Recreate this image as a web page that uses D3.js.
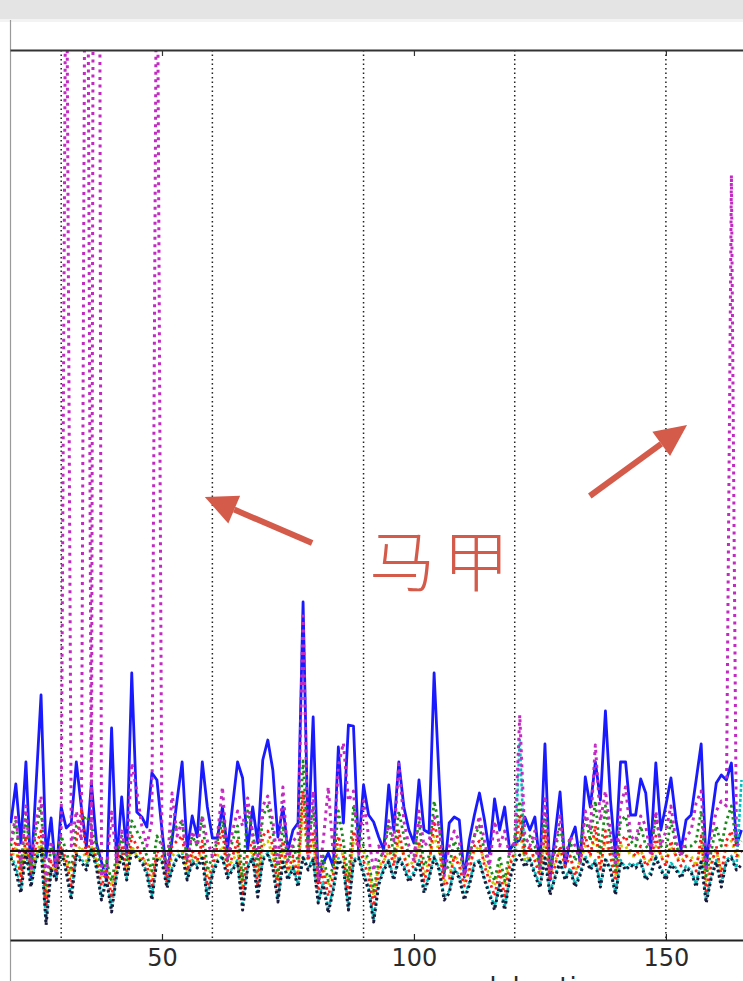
<!DOCTYPE html>
<html>
<head>
<meta charset="utf-8">
<script src="https://cdn.jsdelivr.net/npm/d3@7"></script>
<style>
  body { margin: 0; background: #fff; }
  svg { display: block; }
</style>
</head>
<body>
<svg id="chart" width="743" height="981"></svg>
<script>
// x runs 20..165, one sample per step
const steps = d3.range(20, 166);

const tickValues = [50, 100, 150];
const gridValues = [30, 60, 90, 120, 150];

const blueVals = [
  0.28, 0.67, 0.08, 0.89, -0.26, 0.65, 1.56, -0.06, 0.33, -0.26,
  0.44, 0.23, 0.28, 0.89, 0.44, 0.04, 0.68, 0.08, -0.11, -0.29,
  1.23, -0.12, 0.54, -0.02, 1.78, 0.39, 0.34, 0.24, 0.78, 0.71,
  0.21, -0.26, 0.11, 0.51, 0.89, 0.01, 0.35, 0.14, 0.89, 0.44,
  0.13, 0.13, 0.44, 0.01, 0.45, 0.89, 0.73, 0.01, 0.44, 0.08,
  0.91, 1.11, 0.81, 0.14, 0.44, 0.01, 0.21, 0.28, 2.49, 0.08,
  1.34, -0.32, -0.12, -0.02, -0.16, 1.04, 0.28, 1.26, 1.25, 0.01,
  0.66, 0.36, 0.29, 0.14, 0.01, 0.66, 0.21, 0.89, 0.44, 0.21,
  0.08, 0.71, 0.21, 0.18, 1.78, 0.71, -0.22, 0.28, 0.34, 0.31,
  -0.26, 0.11, 0.36, 0.58, 0.31, -0.02, 0.52, 0.21, 0.44, 0.01,
  0.08, 0.11, 0.34, 0.21, 0.34, -0.16, 1.07, -0.29, 0.16, 0.59,
  -0.16, 0.11, 0.24, -0.12, 0.74, 0.44, 0.89, 0.51, 1.40, 0.51,
  -0.06, 0.89, 0.89, 0.36, 0.36, 0.72, 0.58, 0.01, 0.88, 0.21,
  0.46, 0.73, 0.31, 0.01, 0.31, 0.36, 0.71, 1.07, -0.16, 0.31,
  0.68, 0.76, 0.71, 0.88, 0.06, 0.21
];

const blackVals = [
  -0.07, -0.21, -0.42, -0.01, -0.36, -0.09, 0.03, -0.74, -0.19, -0.29,
  0.01, -0.21, -0.49, -0.04, -0.11, -0.19, 0.01, -0.17, -0.49, -0.29,
  -0.61, -0.24, -0.04, -0.29, 0.01, -0.07, -0.11, -0.24, -0.49, -0.09,
  -0.11, -0.37, -0.19, -0.07, -0.04, -0.29, -0.11, -0.17, -0.07, -0.49,
  -0.24, -0.11, -0.07, -0.27, -0.19, -0.11, -0.59, -0.17, -0.07, -0.46,
  -0.09, -0.04, -0.17, -0.51, -0.11, -0.29, -0.17, -0.36, -0.07, -0.19,
  -0.09, -0.52, -0.34, -0.62, -0.39, -0.09, -0.17, -0.59, -0.11, -0.07,
  -0.24, -0.39, -0.71, -0.34, -0.19, -0.11, -0.29, -0.07, -0.17, -0.31,
  -0.24, -0.11, -0.42, -0.27, -0.07, -0.19, -0.49, -0.42, -0.19, -0.27,
  -0.49, -0.34, -0.14, -0.11, -0.29, -0.44, -0.59, -0.34, -0.59, -0.29,
  -0.11, -0.04, -0.16, -0.09, -0.24, -0.37, -0.07, -0.44, -0.27, -0.11,
  -0.29, -0.19, -0.36, -0.24, -0.07, -0.19, -0.11, -0.36, -0.09, -0.19,
  -0.44, -0.11, -0.19, -0.14, -0.17, -0.11, -0.29, -0.24, -0.07, -0.19,
  -0.29, -0.14, -0.19, -0.27, -0.17, -0.21, -0.36, -0.11, -0.52, -0.27,
  -0.11, -0.36, -0.11, -0.07, -0.19, -0.14
];

const magentaVals = [
  0.10, 0.35, -0.15, 0.45, -0.20, 0.30, 0.55, -0.30, 0.10, -0.15,
  0.20, 10, 0.05, 0.40, 0.10, 13, 0.05, 26, -0.25, -0.20,
  0.39, -0.10, 0.20, -0.05, 0.88, 0.60, 0.25, 0.05, 0.30, 10,
  0.05, -0.20, 0.58, 0.15, 0.30, -0.10, 0.20, 0.05, 0.35, 0.10,
  -0.05, 0.15, 0.64, -0.10, 0.20, 0.40, 0.25, 0.53, 0.15, -0.05,
  0.45, 0.55, 0.30, -0.15, 0.64, -0.10, 0.10, 0.15, 2.35, -0.05,
  0.60, -0.30, 0.10, 0.64, -0.05, 0.85, 1.08, 0.50, 0.60, -0.05,
  0.50, 0.15, -0.20, 0.05, -0.05, 0.30, 0.10, 0.87, 0.30, 0.05,
  -0.10, 0.40, 0.05, 0.10, 0.34, 0.25, -0.25, 0.05, 0.20, 0.10,
  -0.25, -0.05, 0.15, 0.35, 0.10, -0.15, 0.30, 0.05, 0.20, -0.05,
  0.10, 1.36, 0.15, 0.05, 0.20, -0.20, 0.55, -0.25, 0.05, 0.35,
  -0.10, 0.15, 0.05, -0.10, 0.40, 0.20, 1.06, 0.30, 0.60, 0.20,
  -0.15, 0.45, 0.64, 0.15, 0.10, 0.35, 0.25, -0.05, 0.40, 0.05,
  0.20, 0.45, 0.10, -0.05, 0.15, 0.20, 0.48, 0.60, -0.20, 0.15,
  0.40, 0.50, 0.45, 6.76, 0.05, 0.10
];

const redVals = [
  -0.05, 0.10, -0.30, 0.15, -0.25, 0.05, 0.20, -0.55, -0.10, -0.20,
  0.05, -0.10, -0.35, 0.10, 0.40, -0.05, 0.15, -0.10, -0.35, -0.20,
  -0.45, -0.15, 0.05, -0.20, 0.15, 0.05, -0.05, -0.15, -0.35, 0.00,
  -0.05, -0.30, 0.05, 0.10, 0.15, -0.20, 0.00, -0.10, 0.10, -0.35,
  -0.15, 0.05, 0.20, -0.20, -0.05, 0.10, -0.45, 0.00, 0.10, -0.35,
  0.15, 0.20, 0.05, -0.40, 0.10, -0.20, -0.05, -0.25, 0.60, -0.10,
  0.20, -0.40, -0.20, -0.45, -0.25, 0.15, -0.05, -0.45, 0.20, 0.05,
  -0.10, -0.25, -0.55, -0.20, -0.10, 0.05, -0.15, 0.20, -0.05, -0.20,
  -0.15, 0.10, -0.30, -0.15, 0.30, 0.05, -0.35, -0.30, -0.05, -0.15,
  -0.35, -0.20, 0.05, 0.10, -0.15, -0.30, -0.45, -0.20, -0.45, -0.15,
  0.00, 0.35, -0.05, 0.05, -0.10, -0.25, 0.20, -0.30, -0.15, 0.05,
  -0.15, -0.05, -0.25, -0.10, 0.15, -0.05, 0.25, -0.20, 0.20, -0.05,
  -0.30, 0.10, 0.15, 0.00, -0.05, 0.05, -0.15, -0.10, 0.15, -0.05,
  -0.15, 0.10, -0.05, -0.15, -0.05, -0.10, -0.20, 0.15, -0.40, -0.15,
  0.05, -0.25, 0.10, 0.20, -0.05, 0.00
];

const greenVals = [
  0.05, 0.30, -0.20, 0.40, -0.15, 0.20, 0.45, -0.40, 0.05, -0.10,
  0.15, 0.00, -0.20, 0.25, 0.30, 0.35, 0.25, 0.05, -0.20, -0.10,
  -0.30, -0.05, 0.15, -0.10, 0.30, 0.20, 0.10, -0.05, -0.20, 0.15,
  0.05, -0.15, 0.20, 0.25, 0.30, -0.10, 0.15, 0.05, 0.35, -0.20,
  -0.05, 0.10, 0.30, -0.10, 0.10, 0.25, -0.30, 0.40, 0.20, -0.20,
  0.35, 0.45, 0.20, -0.25, 0.25, -0.10, 0.05, -0.10, 0.90, 0.00,
  0.45, -0.25, -0.05, -0.30, -0.15, 0.40, 0.10, -0.30, 0.45, 0.20,
  0.05, -0.10, -0.40, -0.10, 0.00, 0.30, -0.05, 0.40, 0.15, -0.05,
  -0.05, 0.30, -0.15, -0.05, 0.50, 0.25, -0.20, -0.15, 0.10, 0.00,
  -0.20, -0.05, 0.15, 0.25, 0.00, -0.15, -0.30, -0.05, -0.30, 0.00,
  0.10, 0.50, 0.05, 0.15, 0.05, -0.15, 0.40, -0.15, 0.00, 0.25,
  -0.05, 0.10, -0.10, 0.05, 0.35, 0.10, 0.50, -0.05, 0.45, 0.10,
  -0.20, 0.30, 0.35, 0.10, 0.05, 0.25, 0.05, 0.00, 0.35, 0.05,
  0.00, 0.30, 0.05, -0.05, 0.05, 0.05, 0.10, 0.40, -0.25, 0.00,
  0.25, 0.05, 0.30, 0.45, 0.05, 0.10
];

const yellowVals = [
  -0.10, 0.05, -0.25, 0.05, -0.20, -0.05, 0.10, -0.45, -0.15, -0.20,
  -0.05, -0.10, -0.25, 0.00, 0.05, -0.10, 0.05, -0.10, -0.25, -0.15,
  -0.35, -0.15, -0.05, -0.20, 0.05, -0.05, -0.10, -0.10, -0.25, -0.05,
  -0.10, -0.25, -0.05, 0.00, 0.00, -0.20, -0.05, -0.10, 0.00, -0.25,
  -0.15, -0.05, 0.05, -0.15, -0.10, 0.00, -0.35, -0.05, 0.00, -0.25,
  0.05, 0.10, -0.05, -0.30, 0.00, -0.20, -0.10, -0.20, 0.40, -0.10,
  0.10, -0.30, -0.15, -0.35, -0.20, 0.05, -0.05, -0.30, 0.10, 0.05,
  0.00, -0.15, -0.45, -0.15, -0.10, 0.00, -0.10, 0.10, -0.05, -0.15,
  -0.10, 0.05, -0.25, -0.10, 0.15, 0.00, -0.30, -0.25, -0.05, -0.10,
  -0.30, -0.15, 0.00, 0.05, -0.10, -0.25, -0.35, -0.15, -0.35, -0.10,
  -0.05, 0.20, -0.10, -0.05, -0.05, -0.20, 0.10, -0.25, -0.10, 0.00,
  -0.15, -0.05, -0.20, -0.10, 0.05, -0.05, 0.15, -0.15, 0.10, -0.05,
  -0.25, 0.05, 0.05, -0.05, -0.05, 0.00, -0.10, -0.10, 0.05, -0.05,
  -0.10, 0.05, -0.05, -0.10, -0.05, -0.05, -0.15, 0.05, -0.30, -0.10,
  0.00, -0.20, 0.05, 0.10, -0.05, -0.05
];

const cyanVals = [
  -0.05, -0.15, -0.38, 0.00, -0.33, -0.08, 0.05, -0.70, -0.17, -0.27,
  0.02, -0.18, -0.45, -0.02, -0.08, -0.15, 0.03, -0.15, -0.45, -0.27,
  -0.57, -0.22, -0.02, -0.27, 0.03, -0.05, -0.09, -0.21, -0.45, -0.07,
  -0.09, -0.34, -0.17, -0.05, -0.02, -0.27, -0.09, -0.15, -0.05, -0.45,
  -0.21, -0.09, -0.05, -0.25, -0.17, -0.09, -0.55, -0.15, -0.05, -0.43,
  -0.07, -0.02, -0.15, -0.48, -0.09, -0.27, -0.15, -0.33, -0.05, -0.17,
  -0.07, -0.50, -0.31, -0.59, -0.36, -0.07, -0.15, -0.56, -0.09, -0.05,
  -0.21, -0.36, -0.68, -0.31, -0.17, -0.09, -0.27, -0.05, -0.15, -0.28,
  -0.21, -0.09, -0.39, -0.25, -0.05, -0.17, -0.46, -0.40, -0.17, -0.25,
  -0.46, -0.31, -0.12, -0.09, -0.27, -0.41, -0.56, -0.31, -0.56, -0.27,
  -0.09, 1.11, -0.14, -0.07, -0.21, -0.34, -0.05, -0.41, -0.25, -0.09,
  -0.27, -0.17, -0.33, -0.21, -0.05, -0.17, -0.09, -0.33, -0.07, -0.17,
  -0.41, -0.09, -0.17, -0.12, -0.15, -0.09, -0.27, -0.21, -0.05, -0.17,
  -0.27, -0.12, -0.17, -0.25, -0.15, -0.19, -0.33, -0.09, -0.49, -0.25,
  -0.09, -0.33, -0.09, -0.05, -0.17, 0.71
];

// drawing order: solid blue first, dotted series over it
const series = [
  { name: "blue", values: blueVals, color: "#1a1aff", width: 2.8, dash: null },
  { name: "cyan", values: cyanVals, color: "#00bfbf", width: 2.6, dash: "3,2" },
  { name: "yellow", values: yellowVals, color: "#c8c800", width: 2.8, dash: "2.5,3.5" },
  { name: "green", values: greenVals, color: "#1a8a1a", width: 2.8, dash: "2.5,3.5" },
  { name: "red", values: redVals, color: "#ff1a1a", width: 2.8, dash: "2.5,3.5" },
  { name: "magenta", values: magentaVals, color: "#c22ac2", width: 3, dash: "3,4.5" },
  { name: "black", values: blackVals, color: "#18183a", width: 3, dash: "2.5,3" }
];

const annColor = "#d45a4a";
const arrows = [
  { from: [79.8, 3.08], to: [58.5, 3.54] },
  { from: [134.9, 3.55], to: [154.2, 4.26] }
];
const annLabel = { x: 105.8, y: 2.94, text: "马甲" };

const svg = d3.select("#chart");
const W = 743, H = 981;
const plot = { left: 10, right: 743, top: 50, bottom: 940 };

const x = d3.scaleLinear().domain([19.84, 165.3]).range([plot.left, plot.right]);
const y = d3.scaleLinear().domain([-0.89, 8.01]).range([plot.bottom, plot.top]);

// screenshot frame: grey strip at top and the left border
svg.append("rect").attr("x", 0).attr("y", 0).attr("width", W).attr("height", 19).attr("fill", "#e4e4e4");
svg.append("rect").attr("x", 0).attr("y", 19).attr("width", W).attr("height", 3).attr("fill", "#f3f3f3");
svg.append("line")
  .attr("x1", 10.5).attr("x2", 10.5).attr("y1", 20).attr("y2", H)
  .attr("stroke", "#9a9a9a").attr("stroke-width", 1.2);

svg.append("clipPath").attr("id", "clip")
  .append("rect")
  .attr("x", plot.left).attr("y", plot.top)
  .attr("width", plot.right - plot.left).attr("height", plot.bottom - plot.top);

const g = svg.append("g").attr("clip-path", "url(#clip)");

// vertical dotted grid
g.selectAll("line.grid")
  .data(gridValues).enter()
  .append("line")
  .attr("class", "grid")
  .attr("x1", d => x(d)).attr("x2", d => x(d))
  .attr("y1", plot.top).attr("y2", plot.bottom)
  .attr("stroke", "#222")
  .attr("stroke-width", 1.5)
  .attr("stroke-dasharray", "1.5,3");

const line = d3.line()
  .x(d => x(d[0]))
  .y(d => y(d[1]));

series.forEach(s => {
  const pts = steps.map((t, i) => [t, s.values[i]]);
  g.append("path")
    .datum(pts)
    .attr("d", line)
    .attr("fill", "none")
    .attr("stroke", s.color)
    .attr("stroke-width", s.width)
    .attr("stroke-linejoin", "round")
    .attr("stroke-dasharray", s.dash);
});

// zero line
g.append("line")
  .attr("x1", plot.left).attr("x2", plot.right)
  .attr("y1", y(0)).attr("y2", y(0))
  .attr("stroke", "#111").attr("stroke-width", 2);

// axes (ticks inward, classic style)
const bottomAxis = d3.axisBottom(x)
  .tickValues(tickValues)
  .tickSizeInner(-6)
  .tickSizeOuter(0)
  .tickPadding(9);
const axB = svg.append("g")
  .attr("transform", `translate(0,${plot.bottom})`)
  .call(bottomAxis);
axB.select(".domain").attr("stroke", "#222").attr("stroke-width", 1.8);
axB.selectAll(".tick line").attr("stroke", "#222").attr("stroke-width", 1.2);
axB.selectAll(".tick text")
  .attr("fill", "#2a2a2a")
  .style("font-family", "DejaVu Sans, sans-serif")
  .style("font-size", "24px");

const topAxis = d3.axisTop(x)
  .tickValues(tickValues)
  .tickSizeInner(-6)
  .tickSizeOuter(0)
  .tickFormat("");
const axT = svg.append("g")
  .attr("transform", `translate(0,${plot.top})`)
  .call(topAxis);
axT.select(".domain").attr("stroke", "#333").attr("stroke-width", 1.8);
axT.selectAll(".tick line").attr("stroke", "#333").attr("stroke-width", 1.2);

// x label, cut off by the bottom edge as in the source screenshot
svg.append("text")
  .attr("x", 480).attr("y", 996)
  .text("delay time")
  .attr("fill", "#2a2a2a")
  .style("font-family", "DejaVu Sans, sans-serif")
  .style("font-size", "26px");

// red annotation arrows and label
arrows.forEach(a => {
  const x0 = x(a.from[0]), y0 = y(a.from[1]);
  const x1 = x(a.to[0]), y1 = y(a.to[1]);
  const ang = Math.atan2(y1 - y0, x1 - x0);
  const headLen = 32, headHalf = 15;
  const bx = x1 - headLen * Math.cos(ang), by = y1 - headLen * Math.sin(ang);
  svg.append("line")
    .attr("x1", x0).attr("y1", y0).attr("x2", bx).attr("y2", by)
    .attr("stroke", annColor).attr("stroke-width", 6);
  const px = -Math.sin(ang) * headHalf, py = Math.cos(ang) * headHalf;
  svg.append("path")
    .attr("d", `M${x1},${y1}L${bx + px},${by + py}L${bx - px},${by - py}Z`)
    .attr("fill", annColor);
});

svg.append("text")
  .attr("x", x(annLabel.x))
  .attr("y", y(annLabel.y))
  .attr("text-anchor", "middle")
  .attr("dominant-baseline", "central")
  .attr("fill", annColor)
  .style("font-family", "Noto Sans CJK SC, sans-serif")
  .style("font-weight", "300")
  .style("font-size", "66px")
  .style("letter-spacing", "8px")
  .text(annLabel.text);
</script>
</body>
</html>
